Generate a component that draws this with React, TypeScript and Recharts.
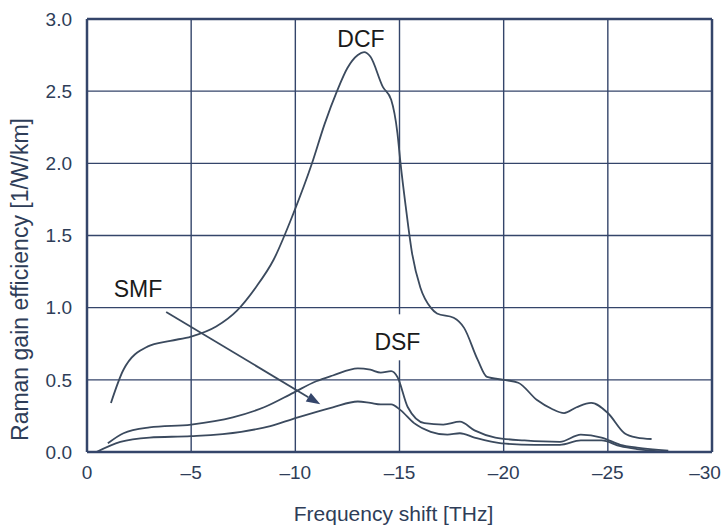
import React from "react";
import {
  LineChart,
  Line,
  XAxis,
  YAxis,
  CartesianGrid,
  ReferenceLine,
  ReferenceDot,
} from "recharts";

const xTicks = [0, -5, -10, -15, -20, -25, -30];
const yTicks = [0, 0.5, 1.0, 1.5, 2.0, 2.5, 3.0];

const dcfPoints: [number, number][] = [
  [-1.15, 0.34], [-1.75, 0.57], [-2.9, 0.73], [-4.0, 0.77], [-5.0, 0.8], [-6.2, 0.87],
  [-7.2, 0.98], [-8.1, 1.14], [-8.95, 1.33], [-9.9, 1.65], [-10.8, 2.0], [-11.4, 2.27],
  [-12.0, 2.5], [-12.5, 2.66], [-13.0, 2.75], [-13.3, 2.77], [-13.6, 2.74], [-14.2, 2.53],
  [-14.6, 2.44], [-14.9, 2.21], [-15.05, 2.0], [-15.3, 1.7], [-15.6, 1.38], [-16.0, 1.14],
  [-16.5, 1.0], [-16.8, 0.96], [-17.6, 0.93], [-18.1, 0.86], [-18.75, 0.64], [-19.2, 0.52],
  [-20.0, 0.5], [-20.7, 0.48], [-21.6, 0.36], [-22.3, 0.3], [-22.9, 0.27], [-23.5, 0.31],
  [-24.2, 0.34], [-25.0, 0.27], [-25.8, 0.13], [-26.4, 0.1], [-27.1, 0.09],
];

const dsfPoints: [number, number][] = [
  [-1.0, 0.06], [-1.75, 0.13], [-3.0, 0.17], [-5.0, 0.19], [-7.0, 0.24], [-8.5, 0.31],
  [-9.9, 0.41], [-11.0, 0.49], [-11.8, 0.53], [-13.0, 0.58], [-13.6, 0.57], [-14.1, 0.55],
  [-14.6, 0.56], [-14.9, 0.52], [-15.4, 0.31], [-16.2, 0.2], [-17.1, 0.19], [-17.9, 0.21],
  [-18.6, 0.15], [-19.6, 0.1], [-21.0, 0.08], [-22.7, 0.07], [-23.7, 0.12], [-24.7, 0.1],
  [-25.6, 0.05], [-26.4, 0.03], [-27.9, 0.01],
];

const smfPoints: [number, number][] = [
  [-0.45, 0.0], [-1.6, 0.07], [-3.0, 0.1], [-5.0, 0.11], [-7.4, 0.14], [-8.8, 0.18],
  [-9.9, 0.23], [-11.8, 0.31], [-13.0, 0.35], [-13.6, 0.34], [-14.1, 0.33], [-14.6, 0.33],
  [-15.05, 0.29], [-15.7, 0.2], [-16.5, 0.14], [-17.3, 0.12], [-17.9, 0.13], [-18.6, 0.1],
  [-19.9, 0.06], [-21.5, 0.05], [-22.7, 0.05], [-23.7, 0.08], [-24.7, 0.08], [-25.6, 0.04],
  [-26.4, 0.02], [-28.0, 0.0],
];

const seriesLabels = [
  { name: "DCF", x: -13.15, y: 2.86 },
  { name: "DSF", x: -14.9, y: 0.76 },
  { name: "SMF", x: -2.45, y: 1.13 },
];

const arrowStart = { x: -3.8, y: 0.97 };
const arrowEnd = { x: -11.2, y: 0.33 };

const xAxisTitle = "Frequency shift [THz]";
const yAxisTitle = "Raman gain efficiency [1/W/km]";

const toRows = (pts: [number, number][]) => pts.map(([x, y]) => ({ x, y }));

const ink = "#2e3d58";
const grid = "#34456a";
const curve = "#3b4a5e";
const font = "'Liberation Sans', Arial, sans-serif";

const fmtX = (v: number) => (v === 0 ? "0" : "\u2013" + Math.abs(v));
const fmtY = (v: number) => v.toFixed(1);

const XTick = (p: any) => {
  const { x, y, payload } = p;
  const v = payload?.value;
  const shift = v === -30 ? -7 : 0;
  return (
    <text
      x={x + shift}
      y={y}
      dy="0.71em"
      textAnchor="middle"
      fontFamily={font}
      fontSize={19}
      fill={ink}
    >
      {fmtX(v)}
    </text>
  );
};

const ArrowShape = (props: any) => {
  const { x1, y1, x2, y2 } = props;
  if ([x1, y1, x2, y2].some((v) => typeof v !== "number")) return null;
  const ang = Math.atan2(y2 - y1, x2 - x1);
  const len = 14;
  const w = 5;
  const bx = x2 - len * Math.cos(ang);
  const by = y2 - len * Math.sin(ang);
  const px = -Math.sin(ang) * w;
  const py = Math.cos(ang) * w;
  return (
    <g>
      <line x1={x1} y1={y1} x2={bx} y2={by} stroke={curve} strokeWidth={1.8} />
      <polygon
        points={`${x2},${y2} ${bx + px},${by + py} ${bx - px},${by - py}`}
        fill={grid}
      />
    </g>
  );
};

const makeLabel = (text: string, bg: boolean) => (p: any) => {
  const vb = p.viewBox || {};
  const cx = (vb.x ?? 0) + (vb.width ?? 0) / 2;
  const cy = (vb.y ?? 0) + (vb.height ?? 0) / 2;
  return (
    <g>
      {bg && <rect x={cx - 29} y={cy - 28} width={58} height={46} fill="#ffffff" />}
      <text
        x={cx}
        y={cy}
        textAnchor="middle"
        dominantBaseline="central"
        fontFamily={font}
        fontSize={23}
        fill="#1a1a1a"
      >
        {text}
      </text>
    </g>
  );
};

const XTitle = (p: any) => {
  const vb = p.viewBox || {};
  const cx = (vb.x ?? 0) + (vb.width ?? 0) / 2 - 6;
  return (
    <text
      x={cx}
      y={521}
      textAnchor="middle"
      fontFamily={font}
      fontSize={21}
      fill={ink}
    >
      {xAxisTitle}
    </text>
  );
};

const YTitle = (p: any) => {
  const vb = p.viewBox || {};
  const cy = (vb.y ?? 0) + (vb.height ?? 0) / 2 + 44;
  const x = 20;
  return (
    <text
      x={x}
      y={cy}
      transform={`rotate(-90, ${x}, ${cy})`}
      textAnchor="middle"
      dominantBaseline="central"
      fontFamily={font}
      fontSize={23}
      fill={ink}
    >
      {yAxisTitle}
    </text>
  );
};

export default function App() {
  return (
    <div style={{ position: "absolute", left: 0, top: 0, background: "#fff" }}>
      <LineChart
        width={725}
        height={525}
        margin={{ top: 19, right: 13, bottom: 0, left: 0 }}
      >
        <CartesianGrid stroke={grid} strokeWidth={1.4} />
        <XAxis
          type="number"
          dataKey="x"
          domain={[-30, 0]}
          reversed
          ticks={xTicks}
          allowDataOverflow
          height={73}
          stroke={grid}
          strokeWidth={2.5}
          tickLine={false}
          tick={XTick}
          tickMargin={8}
          label={{ content: XTitle }}
        />
        <YAxis
          type="number"
          dataKey="y"
          domain={[0, 3]}
          ticks={yTicks}
          tickFormatter={fmtY}
          width={87}
          stroke={grid}
          strokeWidth={2.5}
          tickLine={false}
          tick={{ fill: ink, fontSize: 19, fontFamily: font }}
          tickMargin={9}
          label={{ content: YTitle }}
        />
        <ReferenceLine x={-30} stroke={grid} strokeWidth={2.5} />
        <ReferenceLine y={3} stroke={grid} strokeWidth={2.5} />
        <Line
          data={toRows(dcfPoints)}
          dataKey="y"
          type="monotone"
          stroke={curve}
          strokeWidth={1.8}
          dot={false}
          isAnimationActive={false}
        />
        <Line
          data={toRows(dsfPoints)}
          dataKey="y"
          type="monotone"
          stroke={curve}
          strokeWidth={1.8}
          dot={false}
          isAnimationActive={false}
        />
        <Line
          data={toRows(smfPoints)}
          dataKey="y"
          type="monotone"
          stroke={curve}
          strokeWidth={1.8}
          dot={false}
          isAnimationActive={false}
        />
        <ReferenceLine
          segment={[arrowStart, arrowEnd]}
          shape={ArrowShape}
          ifOverflow="visible"
        />
        {seriesLabels.map((l) => (
          <ReferenceDot
            key={l.name}
            x={l.x}
            y={l.y}
            r={0}
            fill="none"
            stroke="none"
            label={makeLabel(l.name, l.name === "DSF")}
          />
        ))}
      </LineChart>
    </div>
  );
}
